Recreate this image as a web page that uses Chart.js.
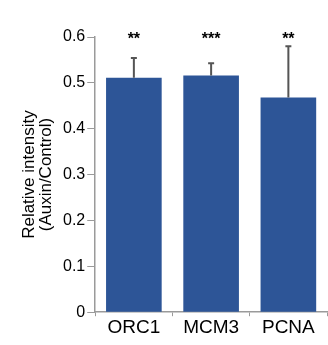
<!DOCTYPE html>
<html>
<head>
<meta charset="utf-8">
<script src="https://cdn.jsdelivr.net/npm/chart.js@4"></script>
<style>
  html, body { margin: 0; padding: 0; background: #ffffff; }
  #wrap { width: 328px; height: 345px; }
</style>
</head>
<body>
<div id="wrap"><canvas id="chart"></canvas></div>
<script>
const categories = ["ORC1", "MCM3", "PCNA"];
const means = [0.511, 0.516, 0.468];
const errorUp = [0.043, 0.027, 0.112];
const stars = ["**", "***", "**"];
const yTicks = [0, 0.1, 0.2, 0.3, 0.4, 0.5, 0.6];

const AXIS_GREY = "#9a9a9a";
const FONT = "'Liberation Sans', Arial, sans-serif";

// error bars (upward only) + significance stars
const annotatePlugin = {
  id: "annotate",
  afterDatasetsDraw(chart) {
    const ctx = chart.ctx;
    const meta = chart.getDatasetMeta(0);
    const y = chart.scales.y;
    ctx.save();
    meta.data.forEach((bar, i) => {
      const top = y.getPixelForValue(means[i] + errorUp[i]);
      ctx.strokeStyle = "#555555";
      ctx.lineWidth = 2;
      ctx.beginPath();
      ctx.moveTo(bar.x, bar.y);
      ctx.lineTo(bar.x, top);
      ctx.moveTo(bar.x - 3, top);
      ctx.lineTo(bar.x + 3, top);
      ctx.stroke();

      ctx.fillStyle = "#000000";
      ctx.font = "bold 16px " + FONT;
      ctx.textAlign = "center";
      ctx.textBaseline = "middle";
      ctx.fillText(stars[i], bar.x, y.getPixelForValue(0.6) + 3);
    });
    ctx.restore();
  }
};

new Chart(document.getElementById("chart"), {
  type: "bar",
  data: {
    labels: categories,
    datasets: [
      {
        data: means,
        backgroundColor: "#2d5597",
        borderWidth: 0,
        categoryPercentage: 1,
        barPercentage: 0.72
      }
    ]
  },
  options: {
    responsive: true,
    maintainAspectRatio: false,
    animation: false,
    layout: { padding: { top: 37, right: 1, left: 21, bottom: 6 } },
    plugins: {
      legend: { display: false },
      tooltip: { enabled: false }
    },
    scales: {
      x: {
        border: { color: AXIS_GREY, width: 1.5 },
        grid: {
          offset: true,
          drawOnChartArea: false,
          color: AXIS_GREY,
          tickLength: 4
        },
        ticks: {
          color: "#000000",
          font: { family: FONT, size: 19 },
          padding: 0
        }
      },
      y: {
        min: 0,
        max: 0.6,
        afterBuildTicks: (axis) => {
          axis.ticks = yTicks.map((v) => ({ value: v }));
        },
        border: { color: AXIS_GREY, width: 1.5 },
        grid: {
          drawOnChartArea: false,
          color: AXIS_GREY,
          tickLength: 8
        },
        ticks: {
          color: "#000000",
          font: { family: FONT, size: 16 },
          padding: 2,
          callback: (v) => (v === 0 ? "0" : v.toFixed(1))
        },
        title: {
          display: true,
          text: ["Relative intensity", "(Auxin/Control)"],
          color: "#000000",
          font: { family: FONT, size: 17, lineHeight: 1 },
          padding: { top: 0, bottom: 6 }
        }
      }
    }
  },
  plugins: [annotatePlugin]
});
</script>
</body>
</html>
